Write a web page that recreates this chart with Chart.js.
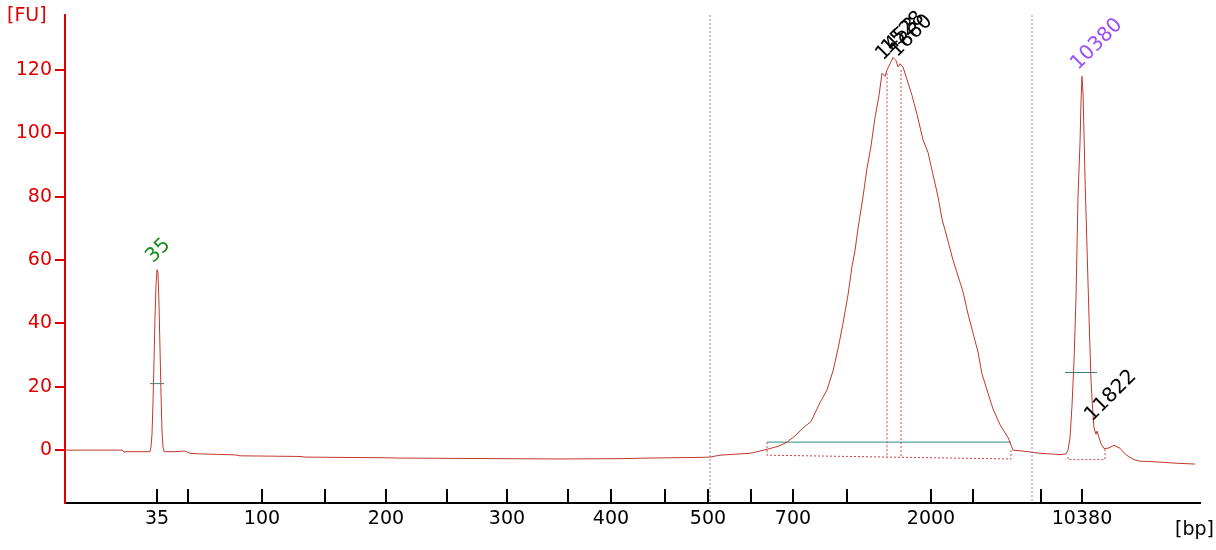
<!DOCTYPE html>
<html><head><meta charset="utf-8">
<script src="https://cdn.jsdelivr.net/npm/chart.js@4"></script>
<style>html,body{margin:0;padding:0;background:#fff}#w{width:1216px;height:550px}</style>
</head><body><div id="w"><canvas id="c"></canvas></div>
<script>
// Trace: migration position (axis units) and fluorescence [FU]
const tracePos = [65,122,124,126,150,151,152,153,154,155,156,157,158,159,160,161,162,163,164,175,185,190,200,235,240,300,305,380,400,500,560,620,650,700,710,720,740,750,760,770,778,787,795,803,811,820,827,833,838,843,848,852,855,858,863,867,871,875,879,882,885,887,890,893,896,898,900,903,907,912,917,923,928,933,938,942,948,953,958,963,968,973,978,982,988,993,1000,1008,1013,1020,1030,1040,1050,1060,1066,1068,1070,1072,1074,1076,1078,1080,1081,1082,1083,1084,1085,1087,1089,1091,1093,1094,1096,1097,1099,1101,1104,1108,1114,1120,1126,1134,1140,1150,1160,1170,1180,1195];
const traceFU  = [0,0,-0.6,-0.5,-0.5,1,5,15,28,42,52,57,56,46,32,18,6,1,-0.5,-0.5,-0.3,-1,-1.2,-1.5,-1.8,-2,-2.2,-2.4,-2.5,-2.7,-2.8,-2.7,-2.5,-2.3,-2.2,-1.6,-1.2,-1,-0.3,0.5,1.2,2.5,4.5,7,9,15,19,25,32,40,49,58,63,70,80,89,96,105,112,119,118,120,122,124,123,121,122,121,117,112,106,98,94,87,80,73,66,60,55,50,43,37,31,24,18,13,8,4,0,-0.2,-0.6,-1,-1.2,-1.4,-1.2,0,4,14,28,48,80,97,110,118,113,100,86,64,42,22,11,7,5,6,4,2,0.5,0.6,1.5,0.6,-1.5,-3,-3.5,-3.6,-3.8,-4,-4.2,-4.4];
// Axis ticks (position on axis, label)
const tickPos    = [157,188,262,325,386,447,507,568,611,665,708,751,793,847,931,973,1041,1082];
const tickLabels = ["35","","100","","200","","300","","400","","500","","700","","2000","","","10380"];
const yTicks = [0,20,40,60,80,100,120];
// Peak annotations
const peakPos    = [157,887,893,901,1082,1096];
const peakFU     = [57,121,123,122,118,7];
const peakLabels = ["35","1453","1528","1660","10380","11822"];
const peakColors = ["#1a8a1a","#000","#000","#000","#9b4dff","#000"];
// Region / marker lines
const regionPos = [767,1011];
const regionFU  = 2.5;
const regionBase = [-1.6,-2.8];
const windowPos = [710,1032];
const markerLines = [[150,164,21],[1065,1097,24.5]];
const sideRegion = [1068,1093,1105,-4.2];

const red = '#e00000';
const lineSeg = (x0,x1,y)=>[{x:x0,y:y},{x:x1,y:y}];
const datasets = [
 {data: tracePos.map((x,i)=>({x, y: traceFU[i]})), borderColor:'#c0392b', borderWidth:1, pointRadius:0, tension:0},
 {data: lineSeg(regionPos[0],regionPos[1],regionFU), borderColor:'#5aa0a0', borderWidth:1.2, pointRadius:0},
 {data: [{x:regionPos[0],y:regionFU},{x:regionPos[0],y:regionBase[0]},{x:regionPos[1],y:regionBase[1]},{x:regionPos[1],y:0}], borderColor:'#d04040', borderWidth:1, borderDash:[2,2], pointRadius:0},
 {data: [{x:sideRegion[0],y:sideRegion[3]+2},{x:sideRegion[0],y:sideRegion[3]+1.2},{x:sideRegion[2],y:sideRegion[3]+1.2},{x:sideRegion[2],y:sideRegion[3]+5}], borderColor:'#d04040', borderWidth:1, borderDash:[2,2], pointRadius:0},
 ...markerLines.map(m=>({data: lineSeg(m[0],m[1],m[2]), borderColor:'#3a8080', borderWidth:1, pointRadius:0}))
];

const overlay = {
 id:'overlay',
 afterDatasetsDraw(chart){
  const {ctx, scales:{x,y}, chartArea:a} = chart;
  ctx.save();
  ctx.strokeStyle='#8888cc'; ctx.setLineDash([2,2]); ctx.lineWidth=1;
  windowPos.forEach(p=>{const px=x.getPixelForValue(p);ctx.beginPath();ctx.moveTo(px,a.top);ctx.lineTo(px,a.bottom);ctx.stroke();});
  ctx.strokeStyle='#d04040';
  [1,3].forEach(i=>{const px=x.getPixelForValue(peakPos[i]);ctx.beginPath();ctx.moveTo(px,y.getPixelForValue(peakFU[i]-2));ctx.lineTo(px,y.getPixelForValue(-2.5));ctx.stroke();});
  ctx.setLineDash([]);
  ctx.font='20px "DejaVu Sans"';
  peakLabels.forEach((t,i)=>{
   const px=x.getPixelForValue(peakPos[i]), py=y.getPixelForValue(peakFU[i]);
   ctx.save(); ctx.translate(px-4,py-6); ctx.rotate(-Math.PI/4);
   ctx.fillStyle=peakColors[i]; ctx.textAlign='left'; ctx.textBaseline='alphabetic';
   ctx.fillText(t,0,0); ctx.restore();
  });
  ctx.fillStyle=red; ctx.font='19px "DejaVu Sans"'; ctx.textAlign='left'; ctx.textBaseline='top';
  ctx.fillText('[FU]',7,7);
  ctx.fillStyle='#000'; ctx.textAlign='right';
  ctx.fillText('[bp]',1214,521);
  ctx.restore();
 }
};

new Chart(document.getElementById('c'),{
 type:'line',
 data:{datasets},
 plugins:[overlay],
 options:{
  responsive:true, maintainAspectRatio:false, animation:false,
  layout:{padding:{top:15,right:16,left:0,bottom:0}},
  plugins:{legend:{display:false},tooltip:{enabled:false}},
  scales:{
   x:{type:'linear',min:65,max:1200,
      afterFit(s){s.height=47;},
      afterBuildTicks(s){s.ticks=tickPos.map(v=>({value:v}));},
      border:{color:'#000',width:2},
      grid:{drawOnChartArea:false,drawTicks:true,tickLength:-14,color:'#000',lineWidth:2},
      ticks:{autoSkip:false,maxRotation:0,color:'#000',padding:19,font:{family:'DejaVu Sans',size:19},
             callback:(v)=>{const i=tickPos.indexOf(v);return i>=0?tickLabels[i]:'';}}},
   y:{type:'linear',min:-16.7,max:137.4,
      afterFit(s){s.width=65;},
      afterBuildTicks(s){s.ticks=yTicks.map(v=>({value:v}));},
      border:{color:red,width:2},
      grid:{drawOnChartArea:false,drawTicks:true,tickLength:10,color:red,lineWidth:2},
      ticks:{color:red,padding:3,font:{family:'DejaVu Sans',size:19}}}
  }
 }
});
</script></body></html>
